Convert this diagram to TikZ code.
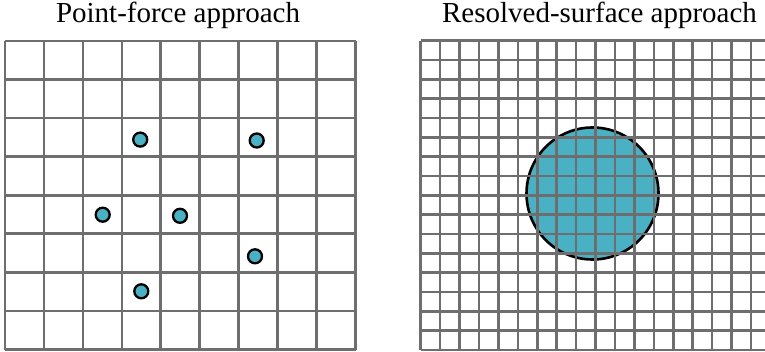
\documentclass[tikz,border=0pt]{standalone}
\usepackage{fontspec}
\setmainfont{Liberation Serif}
\definecolor{gridgray}{RGB}{110,110,110}
\definecolor{teal1}{RGB}{74,177,196}
\tikzset{
  gridline/.style={draw=gridgray, line width=2.6pt},
  dot/.style={circle, draw=black, fill=teal1, line width=2.3pt, minimum size=14pt, inner sep=0pt},
  title/.style={font=\fontsize{29}{32}\selectfont, anchor=base, inner sep=0pt}
}
\begin{document}
\begin{tikzpicture}[x=1pt,y=-1pt]
\useasboundingbox (0,0) rectangle (765,352);
\fill[white] (0,0) rectangle (765,352);
% titles
\node[title] (t1) at (178,22.7) {Point-force approach};
\node[title] (t2) at (599.5,22.7) {Resolved-surface approach};
% left grid
\foreach \i in {0,...,9} {
  \draw[gridline] ({5+\i*38.94},41) -- ({5+\i*38.94},349.5);
}
\foreach \j in {0,...,8} {
  \draw[gridline] (5,{41+\j*38.56}) -- (355.5,{41+\j*38.56});
}
% dots
\node[dot] (d1) at (140.2,139.6) {};
\node[dot] (d2) at (256.7,140.5) {};
\node[dot] (d3) at (102.7,214.7) {};
\node[dot] (d4) at (180,215.8) {};
\node[dot] (d5) at (255,256.3) {};
\node[dot] (d6) at (141.3,291.3) {};
% right panel
\begin{scope}
\clip (400,0) rectangle (765,352);
\fill[teal1] (592.5,193.5) circle (66);
\draw[black, line width=2.6pt] (592.5,193.5) circle (66);
\foreach \i in {0,...,18} {
  \draw[gridline] ({420.7+\i*19.43},40.7) -- ({420.7+\i*19.43},350);
}
\foreach \j in {0,...,16} {
  \draw[gridline] (420.7,{40.7+\j*19.33}) -- (770,{40.7+\j*19.33});
}
\end{scope}
\end{tikzpicture}
\end{document}
